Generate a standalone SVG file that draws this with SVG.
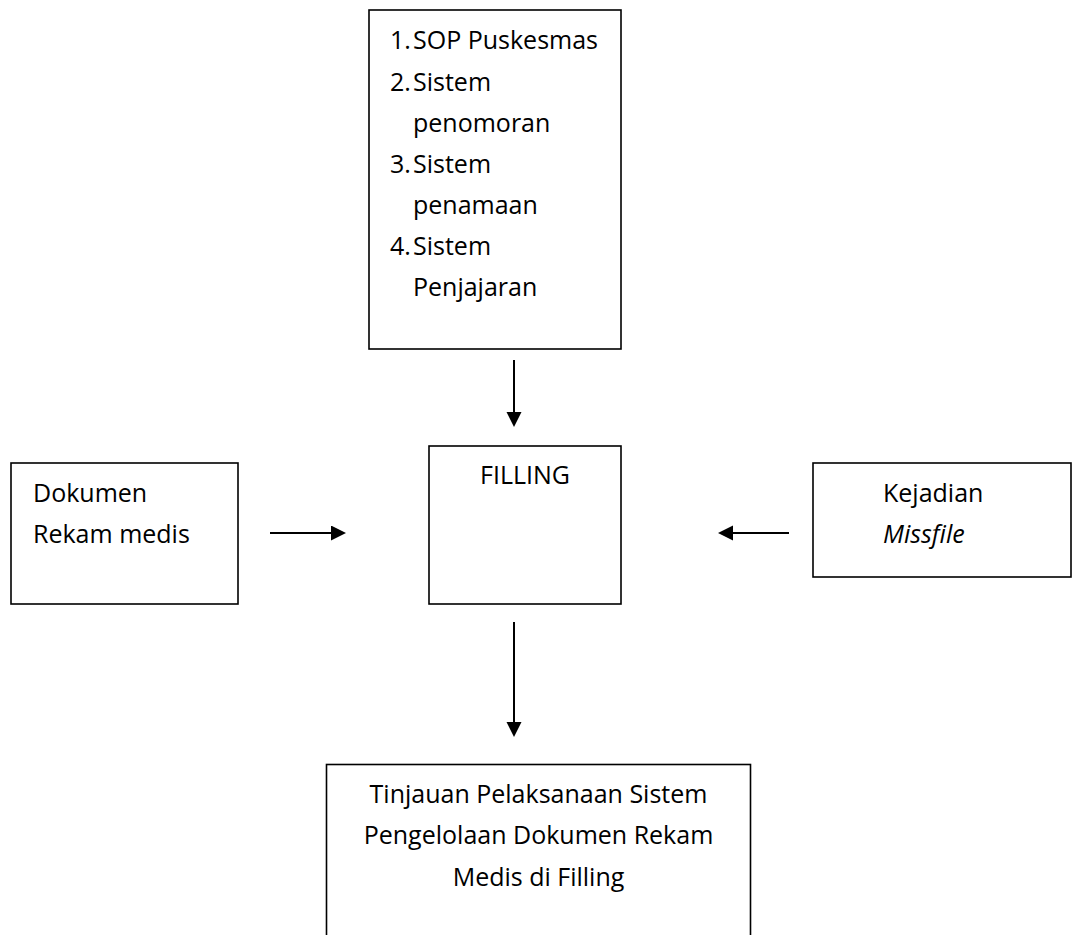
<svg xmlns="http://www.w3.org/2000/svg" width="1072" height="935" viewBox="0 0 1072 935">
<style>
  .box { fill: #ffffff; stroke: #000000; stroke-width: 1.6; }
  .t { font-family: "Open Sans", "Liberation Sans", sans-serif; font-size: 25px; fill: #000000; }
  .c { text-anchor: middle; }
  .i { font-style: italic; }
  .conn { stroke: #000000; stroke-width: 2; fill: none; marker-end: url(#arrow); }
</style>
<defs>
  <marker id="arrow" markerUnits="userSpaceOnUse" markerWidth="16" markerHeight="16" refX="0" refY="7.5" orient="auto">
    <path d="M0,0 L15,7.5 L0,15 Z" fill="#000000"/>
  </marker>
</defs>
<rect width="1072" height="935" fill="#ffffff"/>
<g id="node-faktor">
  <rect class="box" x="369" y="10" width="252" height="339"/>
  <text class="t" x="390" y="49">1.</text><text class="t" x="413" y="49">SOP Puskesmas</text>
  <text class="t" x="390" y="91">2.</text><text class="t" x="413" y="91">Sistem</text>
  <text class="t" x="413" y="132">penomoran</text>
  <text class="t" x="390" y="173">3.</text><text class="t" x="413" y="173">Sistem</text>
  <text class="t" x="413" y="214">penamaan</text>
  <text class="t" x="390" y="255">4.</text><text class="t" x="413" y="255">Sistem</text>
  <text class="t" x="413" y="296">Penjajaran</text>
</g>
<g id="node-filling">
  <rect class="box" x="429" y="446" width="192" height="158"/>
  <text class="t c" x="525" y="484">FILLING</text>
</g>
<g id="node-dokumen">
  <rect class="box" x="11" y="463" width="227" height="141"/>
  <text class="t" x="33" y="502">Dokumen</text>
  <text class="t" x="33" y="543">Rekam medis</text>
</g>
<g id="node-missfile">
  <rect class="box" x="813" y="463" width="258" height="114"/>
  <text class="t" x="883" y="502">Kejadian</text>
  <text class="t i" x="883" y="543">Missfile</text>
</g>
<g id="node-tinjauan">
  <rect class="box" x="326.5" y="764.5" width="424" height="200"/>
  <text class="t c" x="538.5" y="803">Tinjauan Pelaksanaan Sistem</text>
  <text class="t c" x="538.5" y="844">Pengelolaan Dokumen Rekam</text>
  <text class="t c" x="538.5" y="886">Medis di Filling</text>
</g>
<g id="connectors">
  <line class="conn" x1="514" y1="360" x2="514" y2="412"/>
  <line class="conn" x1="270" y1="533" x2="331" y2="533"/>
  <line class="conn" x1="789" y1="533" x2="733" y2="533"/>
  <line class="conn" x1="514" y1="622" x2="514" y2="722"/>
</g>
</svg>
